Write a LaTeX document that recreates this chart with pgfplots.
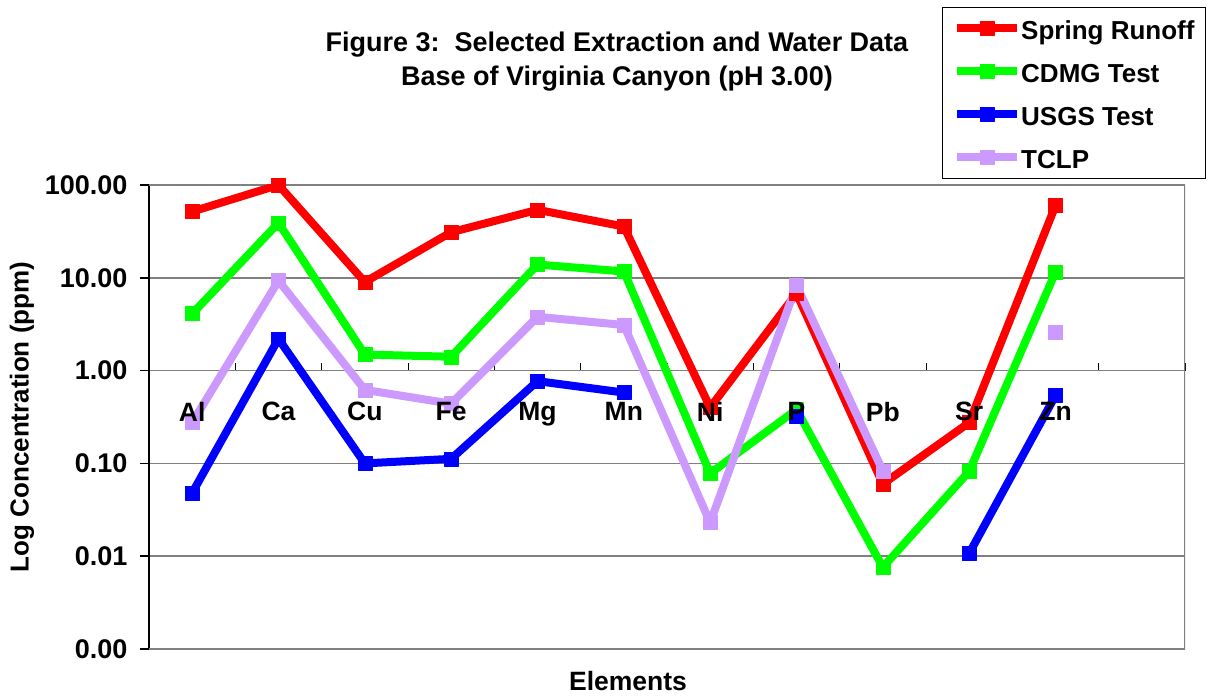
\documentclass[border=0pt]{standalone}
\usepackage{fontspec}
\setmainfont{Liberation Sans}
\usepackage{pgfplots}
\pgfplotsset{compat=1.18}
\definecolor{sr}{RGB}{255,0,0}
\definecolor{cd}{RGB}{0,255,0}
\definecolor{us}{RGB}{0,0,255}
\definecolor{tc}{RGB}{204,153,255}
\definecolor{gridgray}{RGB}{128,128,128}
\pgfplotsset{
  ser/.style={color=#1, line width=8bp, mark=square*, mark size=7bp, mark options={line width=0.5bp, solid}, line join=round},
}
\begin{document}
\begin{tikzpicture}
\path[use as bounding box] (0,0) rectangle (1208bp,696bp);
\begin{axis}[
  at={(149bp,47bp)}, anchor=south west,
  scale only axis, width=1036bp, height=464bp,
  ymode=log, ymin=0.001, ymax=100, xmin=-0.5, xmax=11.5,
  axis x line=middle, axis y line=left,
  axis line style={-},
  x axis line style={gridgray, line width=1.5bp},
  y axis line style={black, line width=1.5bp},
  xtick={0,...,10},
  xticklabels={,,,,,,,,,,},
  major x tick style={draw=none},
  minor xtick={-0.5,0.5,...,11.5},
  minor x tick style={black, line width=1bp},
  minor tick length=8bp,
  xtick align=inside,
  ytick={0.001,0.01,0.1,1,10,100},
  yticklabels={0.00,0.01,0.10,1.00,10.00,100.00},
  yminorticks=false,
  ytick align=outside,
  major tick length=9bp,
  major y tick style={black, line width=1.5bp},
  ymajorgrids,
  major grid style={gridgray, line width=1.5bp},
  yticklabel style={xshift=-9bp, font=\fontsize{27bp}{30bp}\selectfont\bfseries},
  unbounded coords=jump,
  xlabel={Elements},
  xlabel style={at={(axis description cs:0.4624,0)}, anchor=center, yshift=-32bp, font=\fontsize{26.5bp}{30bp}\selectfont\bfseries},
  ylabel={Log Concentration (ppm)},
  ylabel style={at={(axis description cs:-0.1226,0.5)}, anchor=center, font=\fontsize{26bp}{30bp}\selectfont\bfseries},
  title={Figure 3:\ \ Selected Extraction and Water Data\\Base of Virginia Canyon (pH 3.00)},
  title style={at={(axis description cs:0.4517,1)}, anchor=center, yshift=117bp, align=center, font=\fontsize{27bp}{34bp}\selectfont\bfseries},
  legend style={at={(1,1)}, anchor=south east, xshift=21bp, yshift=6bp, draw=black, line width=1bp,
    font=\fontsize{26bp}{30bp}\selectfont\bfseries, inner xsep=11bp, inner ysep=8bp, row sep=17bp,
    nodes={inner sep=0pt, text height=24bp, text depth=2bp}},
  legend cell align=left,
  legend image code/.code={\draw[#1,mark repeat=2,mark phase=2] plot coordinates {(0bp,0bp)(30bp,0bp)(60bp,0bp)};\hspace{5bp}},
]
\draw[gridgray, line width=1.5bp] (rel axis cs:0,1) -- (rel axis cs:1,1);
\draw[gridgray, line width=3bp] (rel axis cs:0,0) -- (rel axis cs:1,0) -- (rel axis cs:1,1);
\draw[gridgray, line width=3bp] (rel axis cs:0.772,1.0108) -- (rel axis cs:1.03,1.0108);
\addplot[ser=sr] coordinates {(0,51.7)(1,100)(2,9.0)(3,31)(4,54)(5,35.7)(6,0.40)(7,6.8)(8,0.060)(9,0.275)(10,60)};
\addlegendentry{Spring Runoff}
\addplot[ser=cd] coordinates {(0,4.1)(1,39)(2,1.49)(3,1.41)(4,13.9)(5,11.7)(6,0.078)(7,0.38)(8,0.0076)(9,0.082)(10,11.5)};
\addlegendentry{CDMG Test}
\addplot[ser=us] coordinates {(0,0.048)(1,2.2)(2,0.1)(3,0.112)(4,0.77)(5,0.58)(6,nan)(7,0.32)(8,nan)(9,0.0107)(10,0.54)};
\addlegendentry{USGS Test}
\addplot[ser=tc] coordinates {(0,0.275)(1,9.3)(2,0.62)(3,0.44)(4,3.8)(5,3.1)(6,0.023)(7,8.3)(8,0.083)(9,nan)(10,2.6)};
\addlegendentry{TCLP}
\end{axis}
\begin{axis}[
  at={(149bp,47bp)}, anchor=south west,
  scale only axis, width=1036bp, height=464bp,
  ymode=log, ymin=0.001, ymax=100, xmin=-0.5, xmax=11.5,
  axis x line=middle, axis y line=none,
  x axis line style={draw=none},
  xtick={0,...,10},
  xticklabels={Al,Ca,Cu,Fe,Mg,Mn,Ni,P,Pb,Sr,Zn},
  major x tick style={draw=none},
  xticklabel style={yshift=-26bp, font=\fontsize{26.5bp}{30bp}\selectfont\bfseries},
  yminorticks=false,
]
\end{axis}
\end{tikzpicture}
\end{document}
